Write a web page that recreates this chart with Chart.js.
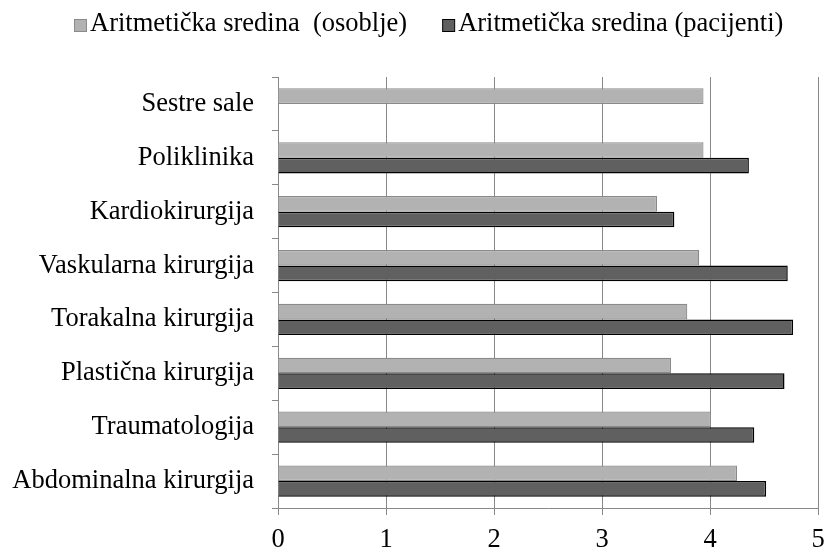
<!DOCTYPE html>
<html>
<head>
<meta charset="utf-8">
<script src="https://cdn.jsdelivr.net/npm/chart.js@4/dist/chart.umd.min.js"></script>
<style>
html,body{margin:0;padding:0;background:#fff;}
#wrap{width:824px;height:549px;}
</style>
</head>
<body>
<div id="wrap"><canvas id="c" width="824" height="549"></canvas></div>
<script>
const categories = ["Sestre sale","Poliklinika","Kardiokirurgija","Vaskularna kirurgija","Torakalna kirurgija","Plastična kirurgija","Traumatologija","Abdominalna kirurgija"];
const seriesNames = ["Aritmetička sredina  (osoblje)","Aritmetička sredina (pacijenti)"];
const osoblje = [3.94, 3.94, 3.51, 3.90, 3.79, 3.64, 4.01, 4.25];
const pacijenti = [null, 4.36, 3.67, 4.72, 4.77, 4.69, 4.41, 4.52];
const xTicks = [0,1,2,3,4,5];

const FONT = "'Liberation Serif', 'Times New Roman', serif";
const FSIZE = 26.5;
Chart.defaults.font.family = FONT;
Chart.defaults.color = "#000";

const legendPlugin = {
  id: 'customLegend',
  afterDraw(chart) {
    const ctx = chart.ctx;
    ctx.save();
    ctx.font = FSIZE + "px " + FONT;
    ctx.textBaseline = 'middle';
    ctx.textAlign = 'left';
    const box = 12, gapText = 4, gapItem = 35, cy = 24.5;
    const items = chart.data.datasets.map(ds => ({text: ds.label, fill: ds.backgroundColor, stroke: ds.borderColor, w: ctx.measureText(ds.label).width}));
    let total = 0;
    items.forEach((it, i) => { total += box + gapText + it.w + (i < items.length - 1 ? gapItem : 0); });
    let x = Math.round(428.5 - total / 2);
    items.forEach(it => {
      ctx.fillStyle = it.fill;
      ctx.fillRect(x + 0.5, Math.round(cy - box / 2) + 0.5, box, box);
      ctx.strokeStyle = it.stroke;
      ctx.lineWidth = 1;
      ctx.strokeRect(x + 0.5, Math.round(cy - box / 2) + 0.5, box, box);
      ctx.fillStyle = '#000';
      ctx.fillText(it.text, x + box + gapText, cy);
      x += box + gapText + it.w + gapItem;
    });
    ctx.restore();
  }
};

new Chart(document.getElementById('c'), {
  type: 'bar',
  data: {
    labels: categories,
    datasets: [
      {label: seriesNames[0], data: osoblje, backgroundColor: '#b2b2b2', borderColor: '#8a8a8a', borderWidth: 1.2},
      {label: seriesNames[1], data: pacijenti, backgroundColor: '#606060', borderColor: '#000000', borderWidth: 1.5}
    ]
  },
  plugins: [legendPlugin],
  options: {
    indexAxis: 'y',
    responsive: false,
    animation: false,
    devicePixelRatio: 1,
    datasets: { bar: { categoryPercentage: 0.58, barPercentage: 1.0 } },
    layout: { padding: { left: 0, right: 0, top: 77, bottom: 0 } },
    plugins: {
      tooltip: { enabled: false },
      legend: { display: false }
    },
    scales: {
      x: {
        min: 0, max: 5,
        afterBuildTicks(axis) { axis.ticks = xTicks.map(v => ({value: v})); },
        afterFit(axis) { axis.height = 41; axis.paddingRight = 6; axis.paddingLeft = 0; },
        grid: { color: '#888888', lineWidth: 1, tickLength: 7, drawTicks: true },
        border: { color: '#888888', width: 1 },
        ticks: { font: { size: FSIZE, family: FONT, lineHeight: 1.0 }, color: '#000', padding: 12 }
      },
      y: {
        afterFit(axis) { axis.width = 278; },
        grid: { color: '#888888', lineWidth: 1, drawOnChartArea: false, tickLength: 6, offset: true },
        border: { color: '#888888', width: 1 },
        ticks: { font: { size: FSIZE, family: FONT }, color: '#000', padding: 18 }
      }
    }
  }
});
</script>
</body>
</html>
